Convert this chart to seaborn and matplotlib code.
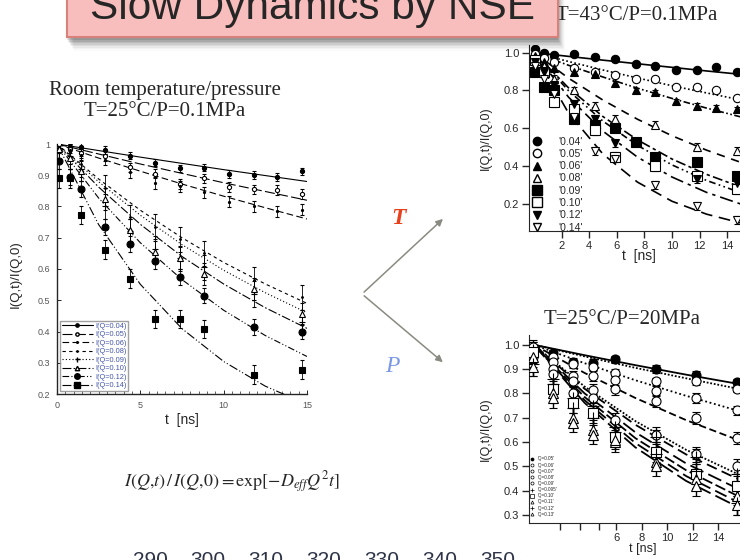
import numpy as np
import pandas as pd
import matplotlib
matplotlib.use("Agg")
import matplotlib.pyplot as plt
import seaborn as sns
from matplotlib.lines import Line2D
from matplotlib.patches import Rectangle, FancyArrowPatch

sns.set_style("ticks")
plt.rcParams['font.family'] = ['Liberation Sans', 'DejaVu Sans']
plt.rcParams['mathtext.fontset'] = 'stix'

# ---------------- data ----------------
# left panel: room temperature / pressure (T=25C, P=0.1MPa)
left_labels = ['0.04', '0.05', '0.06', '0.08', '0.09', '0.10', '0.12', '0.14']
t_left_full = [0.1, 0.75, 1.45, 2.9, 4.4, 5.9, 7.4, 8.8, 10.3, 11.8, 13.2, 14.7]
t_left_sub = [0.1, 0.75, 1.45, 2.9, 4.4, 5.9, 7.4, 8.8, 11.8, 14.7]
L04 = [1.0, 0.99, 0.99, 0.98, 0.963, 0.94, 0.922, 0.924, 0.904, 0.90, 0.895, 0.912]
L05 = [1.0, 0.985, 0.97, 0.962, 0.925, 0.905, 0.872, 0.89, 0.862, 0.855, 0.853, 0.84]
L06 = [0.99, 0.98, 0.965, 0.95, 0.91, 0.875, 0.865, 0.845, 0.815, 0.80, 0.785, 0.79]
L08 = [0.99, 0.975, 0.935, 0.86, 0.765, 0.735, 0.695, 0.65, 0.565, 0.51]
L09 = [0.98, 0.96, 0.92, 0.80, 0.72, 0.665, 0.635, 0.605, 0.52, 0.43]
L10 = [0.985, 0.955, 0.915, 0.825, 0.725, 0.655, 0.635, 0.585, 0.535, 0.455]
L12 = [0.945, 0.895, 0.855, 0.735, 0.68, 0.625, 0.575, 0.515, 0.415, 0.40]
L14 = [0.89, 0.89, 0.773, 0.662, 0.569, 0.44, 0.44, 0.408, 0.262, 0.278]
left_err = [0.012, 0.015, 0.018, 0.04, 0.04, 0.035, 0.025, 0.03]

fit_t = [0, 2.5, 5, 7.5, 10, 12.5, 15]
LF04 = [1, 0.979, 0.958, 0.938, 0.918, 0.899, 0.88]
LF05 = [1, 0.968, 0.936, 0.906, 0.876, 0.848, 0.82]
LF06 = [1, 0.955, 0.913, 0.872, 0.833, 0.796, 0.76]
LF08 = [1, 0.888, 0.788, 0.700, 0.621, 0.552, 0.49]
LF09 = [1, 0.879, 0.772, 0.678, 0.596, 0.524, 0.46]
LF10 = [1, 0.862, 0.743, 0.640, 0.552, 0.476, 0.41]
LF12 = [1, 0.827, 0.684, 0.566, 0.468, 0.387, 0.32]
LF14 = [1, 0.742, 0.551, 0.409, 0.304, 0.225, 0.167]

# top right panel: T=43C, P=0.1MPa
tr_labels = ['0.04', '0.05', '0.06', '0.08', '0.09', '0.10', '0.12', '0.14']
t_tr_full = [0.1, 0.75, 1.45, 2.9, 4.4, 5.9, 7.4, 8.8, 10.3, 11.8, 13.2, 14.7]
t_tr_9 = [0.1, 0.75, 1.45, 2.9, 4.4, 5.9, 8.8, 11.8, 14.7]
t_tr_10 = [0.1, 0.75, 1.45, 2.9, 4.4, 5.9, 7.4, 8.8, 11.8, 14.7]
t_tr_8 = [0.1, 0.75, 1.45, 2.9, 4.4, 5.9, 11.8, 14.7]
R04 = [1.02, 1.0, 0.985, 0.99, 0.975, 0.965, 0.94, 0.93, 0.91, 0.91, 0.925, 0.895]
R05 = [0.99, 0.97, 0.95, 0.92, 0.90, 0.88, 0.86, 0.86, 0.82, 0.82, 0.80, 0.76]
R06 = [0.98, 0.95, 0.92, 0.90, 0.885, 0.84, 0.80, 0.79, 0.745, 0.72, 0.71, 0.70]
R08 = [0.97, 0.93, 0.86, 0.80, 0.72, 0.65, 0.62, 0.50, 0.48]
R09 = [0.90, 0.82, 0.80, 0.65, 0.62, 0.60, 0.53, 0.45, 0.42, 0.35]
R10 = [0.96, 0.90, 0.74, 0.70, 0.59, 0.45, 0.40, 0.35, 0.28]
R12 = [0.95, 0.90, 0.83, 0.73, 0.65, 0.52, 0.33, 0.31]
R14 = [0.93, 0.86, 0.78, 0.66, 0.48, 0.44, 0.30, 0.19, 0.115]
tr_err = [0.01, 0.015, 0.012, 0.02, 0.015, 0.025, 0.02, 0.02]

RF04 = [1, 0.980, 0.960, 0.941, 0.922, 0.903, 0.885]
RF05 = [1, 0.953, 0.908, 0.866, 0.825, 0.787, 0.75]
RF06 = [1, 0.933, 0.871, 0.812, 0.758, 0.707, 0.66]
RF08 = [1, 0.865, 0.749, 0.648, 0.561, 0.485, 0.42]
RF09 = [1, 0.814, 0.662, 0.539, 0.438, 0.357, 0.29]
RF10 = [1, 0.799, 0.638, 0.510, 0.407, 0.325, 0.26]
RF12 = [1, 0.765, 0.585, 0.448, 0.343, 0.262, 0.20]
RF14 = [1, 0.681, 0.464, 0.316, 0.215, 0.147, 0.10]

# bottom right panel: T=25C, P=20MPa
br_labels = ['0.05', '0.06', '0.07', '0.08', '0.09', '0.095', '0.10', '0.11', '0.12', '0.13']
t_br = [-0.6, 1.0, 2.6, 4.2, 5.9, 9.1, 12.3, 15.5]
B05 = [0.98, 0.965, 0.93, 0.925, 0.94, 0.90, 0.875, 0.845]
B06 = [0.97, 0.95, 0.92, 0.91, 0.885, 0.85, 0.85, 0.82]
B07 = [0.96, 0.93, 0.87, 0.87, 0.855, 0.81, 0.78, 0.73]
B08 = [0.95, 0.90, 0.85, 0.815, 0.82, 0.77, 0.70, 0.615]
B09 = [0.99, 0.88, 0.80, 0.78, 0.69, 0.63, 0.55, 0.50]
B095 = [0.98, 0.86, 0.78, 0.75, 0.66, 0.62, 0.54, 0.47]
B10 = [0.97, 0.82, 0.76, 0.72, 0.62, 0.56, 0.47, 0.42]
B11 = [0.95, 0.80, 0.70, 0.65, 0.60, 0.52, 0.45, 0.38]
B12 = [0.92, 0.84, 0.74, 0.70, 0.64, 0.55, 0.48, 0.35]
B13 = [0.91, 0.78, 0.68, 0.63, 0.61, 0.50, 0.42, 0.34]
br_err = [0.015, 0.015, 0.02, 0.025, 0.03, 0.03, 0.04, 0.04, 0.05, 0.04]

fit_t_br = [-0.5, 3.5, 7.5, 11.5, 15.5]
BF05 = [1, 0.957, 0.916, 0.877, 0.84]
BF06 = [1, 0.952, 0.905, 0.862, 0.82]
BF07 = [1, 0.924, 0.854, 0.790, 0.73]
BF08 = [1, 0.884, 0.781, 0.690, 0.61]
BF09 = [1, 0.828, 0.686, 0.568, 0.47]
BF095 = [1, 0.819, 0.671, 0.549, 0.45]
BF10 = [1, 0.800, 0.640, 0.512, 0.41]
BF11 = [1, 0.785, 0.616, 0.484, 0.38]
BF12 = [1, 0.772, 0.596, 0.460, 0.355]
BF13 = [1, 0.761, 0.578, 0.440, 0.335]

bottom_numbers = ['290', '300', '310', '320', '330', '340', '350']

W, H = 740, 560
fig = plt.figure(figsize=(7.4, 5.6), dpi=100, facecolor='white')


def px(x, y):
    return x / W, 1 - y / H


def draw_panel(ax, labels, times, values, errs, ft, fits, markers, dashes, lw, ms, cap, elw):
    rows = []
    for lab, fv in zip(labels, fits):
        for tt, vv in zip(ft, fv):
            rows.append((lab, tt, vv))
    fit_df = pd.DataFrame(rows, columns=['Q', 't', 'v'])
    sns.lineplot(data=fit_df, x='t', y='v', hue='Q', style='Q',
                 palette={l: 'black' for l in labels},
                 dashes=dict(zip(labels, dashes)), legend=False, ax=ax,
                 linewidth=lw)
    for t, v, e, (m, filled, s) in zip(times, values, errs, markers):
        ax.errorbar(t, v, yerr=e, fmt=m, color='black', ms=ms * s,
                    mfc='black' if filled else 'white', mec='black', mew=0.8,
                    capsize=cap, elinewidth=elw, capthick=elw, zorder=3)
    ax.set_xlabel('')
    ax.set_ylabel('')


# ---------------- left panel ----------------
axL = fig.add_axes([57 / W, 1 - 394 / H, 250 / W, 250 / H])
left_markers = [('o', True, 0.6), ('o', False, 0.6), ('.', True, 0.6), ('.', True, 0.5),
                ('+', True, 0.9), ('^', False, 0.8), ('o', True, 1.0), ('s', True, 1.0)]
left_dashes = ['', (9, 3), (6, 3), (3, 3), (1, 2), (8, 2, 1.5, 2), (6, 2, 1, 2, 1, 2), (8, 2, 1, 2, 1, 2)]
draw_panel(axL, left_labels,
           [t_left_full, t_left_full, t_left_full, t_left_sub, t_left_sub, t_left_sub, t_left_sub, t_left_sub],
           [L04, L05, L06, L08, L09, L10, L12, L14], left_err, fit_t,
           [LF04, LF05, LF06, LF08, LF09, LF10, LF12, LF14],
           left_markers, left_dashes, 0.8, 5, 1.5, 0.6)
axL.set_xlim(0, 15)
axL.set_ylim(0.2, 1.0)
axL.set_xticks([0, 5, 10, 15])
axL.set_xticks(np.arange(0, 15.01, 0.5), minor=True)
axL.set_yticks([0.2, 0.3, 0.4, 0.5, 0.6, 0.7, 0.8, 0.9, 1.0])
axL.set_yticklabels(['0.2', '0.3', '0.4', '0.5', '0.6', '0.7', '0.8', '0.9', '1'])
axL.tick_params(direction='in', labelsize=6.5, labelcolor='#555555', length=3, width=0.7, pad=5)
axL.tick_params(which='minor', direction='in', length=2, width=0.5)
sns.despine(ax=axL)
for s in ['left', 'bottom']:
    axL.spines[s].set_linewidth(1.0)
axL.set_xlabel('t  [ns]', fontsize=10)
axL.xaxis.set_label_coords(0.5, -0.075)
axL.set_ylabel('I(Q,t)/I(Q,0)', fontsize=9.5)
axL.yaxis.set_label_coords(-0.14, 0.48)
handles = []
for lab, (m, filled, s), d in zip(left_labels, left_markers, left_dashes):
    handles.append(Line2D([0], [0], color='black', lw=0.8, ls='-' if d == '' else (0, d),
                          marker=m, ms=4 * s, mfc='black' if filled else 'white', mec='black',
                          label='I(Q=%s)' % lab))
axL.legend(handles=handles, loc='lower left', fontsize=5.3, frameon=True, fancybox=False,
           edgecolor='#888888', labelcolor='#4455aa', handlelength=4.2, labelspacing=0.18,
           borderpad=0.3, borderaxespad=0.35, handletextpad=0.3)

# ---------------- top right panel ----------------
axT = fig.add_axes([529 / W, 1 - 231 / H, 218.9 / W, 186 / H])
tr_markers = [('o', True, 1.0), ('o', False, 1.0), ('^', True, 1.0), ('^', False, 1.0),
              ('s', True, 1.15), ('s', False, 1.15), ('v', True, 1.0), ('v', False, 1.0)]
tr_dashes = ['', (1, 1.5), (4, 1.5, 1, 1.5, 1, 1.5), (5, 4), (6, 2, 2, 2), (4, 2, 1, 2, 1, 2), (8, 3, 2, 3), (7, 4)]
draw_panel(axT, tr_labels,
           [t_tr_full, t_tr_full, t_tr_full, t_tr_9, t_tr_10, t_tr_9, t_tr_8, t_tr_9],
           [R04, R05, R06, R08, R09, R10, R12, R14], tr_err, fit_t,
           [RF04, RF05, RF06, RF08, RF09, RF10, RF12, RF14],
           tr_markers, tr_dashes, 1.2, 6, 2.5, 0.8)
axT.set_xlim(-0.36, 15.5)
axT.set_ylim(0.058, 1.04)
axT.set_xticks([2, 4, 6, 8, 10, 12, 14])
axT.set_yticks([0.2, 0.4, 0.6, 0.8, 1.0])
axT.set_yticklabels(['0.2', '0.4', '0.6', '0.8', '1.0'])
axT.tick_params(direction='out', labelsize=8, length=5, width=1, pad=2)
sns.despine(ax=axT)
axT.set_xlabel('t  [ns]', fontsize=10, labelpad=-1)
axT.set_ylabel('I(Q,t)/I(Q,0)', fontsize=9)
axT.yaxis.set_label_coords(-0.17, 0.5)
th = [Line2D([0], [0], ls='none', marker=m, ms=6 * s, mfc='black' if f else 'white', mec='black',
             label="'%s'" % lab) for lab, (m, f, s) in zip(tr_labels, tr_markers)]
axT.legend(handles=th, loc='lower left', bbox_to_anchor=(-0.02, -0.02), fontsize=7.5,
           frameon=False, labelspacing=0.22, handletextpad=1.0, borderaxespad=0, borderpad=0.2)

# ---------------- bottom right panel ----------------
axB = fig.add_axes([529 / W, 1 - 523.3 / H, 227 / W, 188.3 / H])
br_markers = [('o', True, 1.0), ('o', False, 1.0), ('o', False, 1.0), ('o', False, 1.0), ('o', False, 1.0),
              ('+', True, 1.3), ('s', False, 1.0), ('^', False, 1.0), ('+', True, 1.3), ('^', False, 1.0)]
br_dashes = ['', (1, 1), (1, 1.5), (4, 2), (1, 1), (6, 3), (8, 3), (6, 2), (7, 3), (9, 3)]
draw_panel(axB, br_labels, [t_br] * 10,
           [B05, B06, B07, B08, B09, B095, B10, B11, B12, B13], br_err, fit_t_br,
           [BF05, BF06, BF07, BF08, BF09, BF095, BF10, BF11, BF12, BF13],
           br_markers, br_dashes, 1.3, 6.5, 3, 1.0)
axB.set_xlim(-0.88, 17)
axB.set_ylim(0.266, 1.04)
axB.set_xticks([1.6, 3.1, 4.6, 6, 8, 10, 12, 14])
axB.set_xticklabels(['', '', '', '6', '8', '10', '12', '14'])
axB.set_yticks([0.3, 0.4, 0.5, 0.6, 0.7, 0.8, 0.9, 1.0])
axB.set_yticklabels(['0.3', '0.4', '0.5', '0.6', '0.7', '0.8', '0.9', '1.0'])
axB.tick_params(direction='out', labelsize=8, length=5, width=1, pad=2)
sns.despine(ax=axB)
axB.set_xlabel('t [ns]', fontsize=9, labelpad=0)
axB.set_ylabel('I(Q,t)/I(Q,0)', fontsize=9)
axB.yaxis.set_label_coords(-0.165, 0.5)
bh = [Line2D([0], [0], ls='none', marker=m, ms=2.2 * s, mfc='black' if f else 'white', mec='black',
             mew=0.5, label="'Q=%s'" % lab) for lab, (m, f, s) in zip(br_labels, br_markers)]
axB.legend(handles=bh, loc='lower left', bbox_to_anchor=(0.0, 0.03), fontsize=3.3,
           frameon=False, labelspacing=0.25, handletextpad=0.6, handlelength=1.0,
           borderaxespad=0, borderpad=0.2)

# ---------------- slide decorations ----------------
serif = ['Liberation Serif', 'DejaVu Serif']
fig.text(*px(165, 90), 'Room temperature/pressure', ha='center', va='center', family=serif, fontsize=15)
fig.text(*px(165, 112), 'T=25°C/P=0.1MPa', ha='center', va='center', family=serif, fontsize=15)
fig.text(*px(718, 16), 'T=43°C/P=0.1MPa', ha='right', va='center', family=serif, fontsize=15, zorder=5)
fig.text(*px(622, 319), 'T=25°C/P=20MPa', ha='center', va='center', family=serif, fontsize=15)
fig.text(*px(232, 482), r'$I(Q{,}t)\,/\,I(Q{,}0){=}\mathrm{exp}[{-}D_{eff}Q^2t]$', ha='center', va='center',
         fontsize=13)

# title box with soft shadow
box_bottom = 37
for i, a in enumerate([0.10, 0.09, 0.08, 0.07, 0.05, 0.04, 0.03, 0.02]):
    fig.add_artist(Rectangle(px(67 + i, box_bottom + 3 + 1.5 * i), (558 - 67) / W, 0.2, transform=fig.transFigure,
                             facecolor='black', edgecolor='none', alpha=a, zorder=9))
fig.add_artist(Rectangle(px(67, box_bottom), (558 - 67) / W, 0.2, transform=fig.transFigure,
                         facecolor='#f8bebd', edgecolor='#d8817c', lw=1.5, zorder=10))
fig.text(*px(90, 19), 'Slow Dynamics by NSE', ha='left', va='baseline', fontsize=30.5, zorder=11)

# T / P arrows
for end in [(445, 217), (445, 364)]:
    fig.add_artist(FancyArrowPatch(px(362, 294), px(*end), transform=fig.transFigure,
                                   arrowstyle='-|>,head_length=4,head_width=2', color='#8a8a82',
                                   lw=1.1))
fig.text(*px(398, 218), 'T', ha='center', va='center', family=serif, style='italic', weight='bold',
         fontsize=17, color='#e8401c')
fig.text(*px(392, 367), 'P', ha='center', va='center', family=serif, style='italic',
         fontsize=17, color='#7a98e8')

for i, n in enumerate(bottom_numbers):
    fig.text(*px(150 + 58 * i, 566), n, ha='center', va='baseline', fontsize=15, color='#2e3448')

fig.savefig('out.png', dpi=100, facecolor='white')
